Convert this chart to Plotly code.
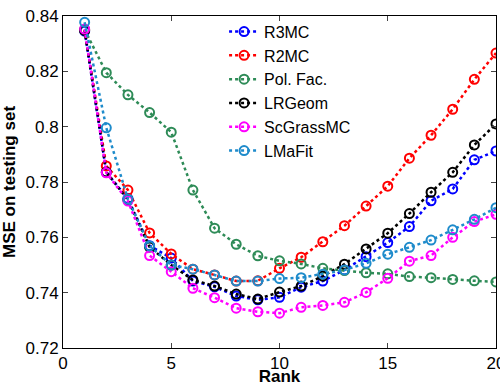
import plotly.graph_objects as go

rank = list(range(1, 21))

r3mc = [0.8345, 0.7835, 0.7740, 0.7570, 0.7525, 0.7442, 0.7421, 0.7388, 0.7374, 0.7383,
        0.7420, 0.7442, 0.7482, 0.7530, 0.7581, 0.7639, 0.7732, 0.7775, 0.7880, 0.7912]
r2mc = [0.8350, 0.7858, 0.7771, 0.7616, 0.7540, 0.7485, 0.7464, 0.7442, 0.7443, 0.7488,
        0.7528, 0.7584, 0.7642, 0.7713, 0.7785, 0.7886, 0.7969, 0.8063, 0.8171, 0.8266]
polfac = [0.8350, 0.8195, 0.8115, 0.8051, 0.7980, 0.7771, 0.7633, 0.7575, 0.7533, 0.7515,
          0.7504, 0.7488, 0.7480, 0.7472, 0.7468, 0.7458, 0.7454, 0.7448, 0.7443, 0.7439]
lrgeom = [0.8348, 0.7836, 0.7735, 0.7565, 0.7500, 0.7446, 0.7424, 0.7395, 0.7377, 0.7402,
          0.7424, 0.7460, 0.7503, 0.7558, 0.7615, 0.7686, 0.7763, 0.7835, 0.7934, 0.8010]
scgrass = [0.8353, 0.7833, 0.7731, 0.7534, 0.7476, 0.7416, 0.7382, 0.7344, 0.7331, 0.7326,
           0.7347, 0.7354, 0.7365, 0.7401, 0.7452, 0.7514, 0.7534, 0.7600, 0.7657, 0.7683]
lmafit = [0.8377, 0.7996, 0.7738, 0.7569, 0.7500, 0.7485, 0.7464, 0.7442, 0.7442, 0.7451,
          0.7454, 0.7467, 0.7482, 0.7506, 0.7539, 0.7564, 0.7590, 0.7627, 0.7665, 0.7707]

names = ["R3MC", "R2MC", "Pol. Fac.", "LRGeom", "ScGrassMC", "LMaFit"]
series = [r3mc, r2mc, polfac, lrgeom, scgrass, lmafit]
colors = ["#0000FF", "#FF0000", "#2E8B57", "#000000", "#FF00FF", "#1E8BCB"]

fig = go.Figure()
for nm, ys, c in zip(names, series, colors):
    fig.add_trace(go.Scatter(
        x=rank, y=ys, name=nm, mode="lines+markers",
        line=dict(color=c, width=2.5, dash="dot"),
        marker=dict(symbol="circle-open", size=9, color=c, line=dict(width=2, color=c)),
    ))

font = "Liberation Sans, Arial, Helvetica, sans-serif"
fig.update_layout(
    width=500, height=386,
    margin=dict(l=63, r=4, t=16, b=38, autoexpand=False),
    paper_bgcolor="white", plot_bgcolor="white",
    font=dict(family=font, size=17, color="black"),
    showlegend=True,
    legend=dict(x=0.372, y=1.004, xanchor="left", yanchor="top",
                bgcolor="rgba(255,255,255,0)", borderwidth=0,
                font=dict(size=16)),
    xaxis=dict(range=[0, 20], tickvals=[0, 5, 10, 15, 20], ticks="inside", ticklen=5,
               showgrid=False, zeroline=False, showline=True, linecolor="black",
               linewidth=1, mirror="ticks", tickfont=dict(size=17),
               ticklabeloverflow="allow", automargin=False,
               title=dict(text="<b>Rank</b>", font=dict(size=17))),
    yaxis=dict(range=[0.72, 0.84], tickvals=[0.72, 0.74, 0.76, 0.78, 0.80, 0.82, 0.84],
               ticktext=["0.72", "0.74", "0.76", "0.78", "0.8", "0.82", "0.84"],
               ticks="inside", ticklen=5,
               showgrid=False, zeroline=False, showline=True, linecolor="black",
               linewidth=1, mirror="ticks", tickfont=dict(size=17),
               ticklabeloverflow="allow", automargin=False,
               title=dict(text="<b>MSE on testing set</b>", font=dict(size=17))),
)

fig.write_html("out.html")
